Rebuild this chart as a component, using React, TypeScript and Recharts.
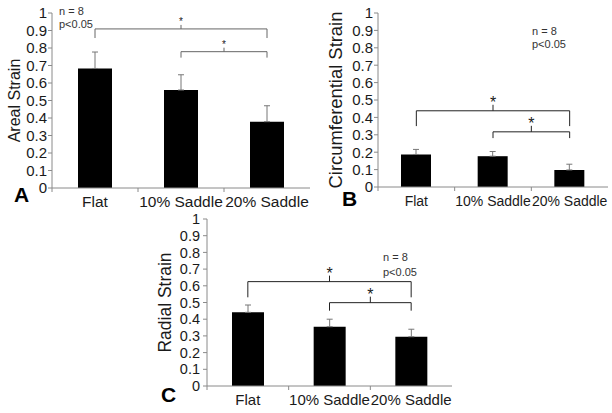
import { BarChart, Bar, XAxis, YAxis, ErrorBar, ReferenceLine } from "recharts";

const categories = ["Flat", "10% Saddle", "20% Saddle"];

const arealStrain = [0.683, 0.56, 0.379];
const arealError = [0.094, 0.087, 0.091];
const circumferentialStrain = [0.187, 0.177, 0.098];
const circumferentialError = [0.029, 0.027, 0.033];
const radialStrain = [0.441, 0.355, 0.295];
const radialError = [0.044, 0.045, 0.045];

const yTicks = [0, 0.1, 0.2, 0.3, 0.4, 0.5, 0.6, 0.7, 0.8, 0.9, 1];

// significance brackets: horizontal bar height and where the legs end
const arealBrackets = [
  { from: "Flat", to: "20% Saddle", y: 0.909, leg: 0.857 },
  { from: "10% Saddle", to: "20% Saddle", y: 0.779, leg: 0.745 },
];
const circumferentialBrackets = [
  { from: "Flat", to: "20% Saddle", y: 0.438, leg: 0.35 },
  { from: "10% Saddle", to: "20% Saddle", y: 0.317, leg: 0.281 },
];
const radialBrackets = [
  { from: "Flat", to: "20% Saddle", y: 0.625, leg: 0.531 },
  { from: "10% Saddle", to: "20% Saddle", y: 0.499, leg: 0.451 },
];

const FONT = "'Liberation Sans', Arial, sans-serif";
const AXIS = "#8a8a8a";
const TEXT = "#1a1a1a";

function CategoryTick({ x, y, payload, fontSize }: any) {
  const edge = payload && payload.offset ? x - payload.offset : null;
  return (
    <g>
      {edge !== null && (
        <line x1={edge} x2={edge} y1={y - 8} y2={y - 4} stroke={AXIS} />
      )}
      <text x={x} y={y} dy={11} textAnchor="middle" fontSize={fontSize} fill={TEXT} fontFamily={FONT}>
        {payload.value}
      </text>
    </g>
  );
}

function AxisTitle({ viewBox, text, baseX, fontSize }: any) {
  const cy = viewBox.y + viewBox.height / 2;
  return (
    <text
      transform={`translate(${baseX},${cy}) rotate(-90)`}
      textAnchor="middle"
      fontSize={fontSize}
      fill={TEXT}
      fontFamily={FONT}
    >
      {text}
    </text>
  );
}

function StarMark({ viewBox, rise, starSize, starDy, color }: any) {
  const cx = viewBox.x + viewBox.width / 2;
  const y = viewBox.y;
  return (
    <g>
      <line x1={cx} x2={cx} y1={y} y2={y - rise} stroke={color} />
      <text x={cx} y={y - rise + starDy} textAnchor="middle" fontSize={starSize} fill={TEXT} fontFamily={FONT}>
        *
      </text>
    </g>
  );
}

function Panel({ title, values, errors, brackets, box, style }: any) {
  const data = categories.map((c, i) => ({ name: c, value: values[i], err: [0, errors[i]] }));
  return (
    <div style={{ position: "absolute", left: box.left, top: box.top }}>
      <BarChart
        width={box.width}
        height={box.height}
        data={data}
        margin={{ top: box.top0, right: box.right, bottom: 0, left: 0 }}
      >
        <XAxis
          dataKey="name"
          height={box.xh}
          stroke={AXIS}
          tickLine={false}
          tickSize={4}
          tickMargin={4}
          tick={<CategoryTick fontSize={box.xFont} />}
          interval={0}
        />
        <YAxis
          width={box.yw}
          domain={[0, 1]}
          ticks={yTicks}
          stroke={AXIS}
          tickSize={4}
          tickMargin={box.yGap}
          tick={{ fontSize: box.yFont, fill: TEXT, fontFamily: FONT }}
          interval={0}
          label={{
            content: (p: any) => (
              <AxisTitle {...p} text={title} baseX={box.titleX} fontSize={box.titleFont} />
            ),
          }}
        />
        <Bar dataKey="value" fill="#000" barSize={box.barSize} isAnimationActive={false}>
          <ErrorBar dataKey="err" direction="y" width={3} stroke="#777" strokeWidth={1} isAnimationActive={false} />
        </Bar>
        {brackets.map((b: any, i: number) => (
          <ReferenceLine
            key={`h${i}`}
            segment={[{ x: b.from, y: b.y }, { x: b.to, y: b.y }]}
            stroke={style.color}
            label={{
              content: (p: any) => (
                <StarMark {...p} rise={style.rise} starSize={style.starSize} starDy={style.starDy} color={style.color} />
              ),
            }}
          />
        ))}
        {brackets.map((b: any, i: number) => (
          <ReferenceLine key={`l${i}`} segment={[{ x: b.from, y: b.y }, { x: b.from, y: b.leg }]} stroke={style.color} />
        ))}
        {brackets.map((b: any, i: number) => (
          <ReferenceLine key={`r${i}`} segment={[{ x: b.to, y: b.y }, { x: b.to, y: b.leg }]} stroke={style.color} />
        ))}
      </BarChart>
    </div>
  );
}

export default function App() {
  return (
    <div
      style={{
        position: "fixed",
        left: 0,
        top: 0,
        width: 612,
        height: 413,
        background: "#fff",
        fontFamily: FONT,
        overflow: "hidden",
      }}
    >
      <Panel
        title="Areal Strain"
        values={arealStrain}
        errors={arealError}
        brackets={arealBrackets}
        box={{
          left: 0, top: 0, width: 320, height: 210, top0: 13, right: 10, xh: 22, yw: 52,
          barSize: 34, titleX: 20, titleFont: 16, xFont: 15.5, yFont: 15, yGap: 1,
        }}
        style={{ color: "#666", rise: 4, starSize: 10, starDy: 0 }}
      />
      <Panel
        title="Circumferential Strain"
        values={circumferentialStrain}
        errors={circumferentialError}
        brackets={circumferentialBrackets}
        box={{
          left: 300, top: 0, width: 312, height: 210, top0: 13, right: 4, xh: 23, yw: 78,
          barSize: 30, titleX: 42, titleFont: 18.4, xFont: 14, yFont: 15, yGap: 1,
        }}
        style={{ color: "#222", rise: 6, starSize: 16, starDy: 3 }}
      />
      <Panel
        title="Radial Strain"
        values={radialStrain}
        errors={radialError}
        brackets={radialBrackets}
        box={{
          left: 150, top: 205, width: 310, height: 208, top0: 14, right: 8, xh: 27, yw: 57,
          barSize: 32, titleX: 21, titleFont: 17.5, xFont: 15, yFont: 14.5, yGap: 3,
        }}
        style={{ color: "#222", rise: 6, starSize: 16, starDy: 3 }}
      />
      <svg width={612} height={413} style={{ position: "absolute", left: 0, top: 0, pointerEvents: "none" }}>
        <g fontFamily={FONT} fill="#333" fontSize={11}>
          <text x={59} y={15}>n = 8</text>
          <text x={59} y={28}>p&lt;0.05</text>
          <text x={532} y={35}>n = 8</text>
          <text x={532} y={48}>p&lt;0.05</text>
          <text x={383} y={261}>n = 8</text>
          <text x={383} y={276}>p&lt;0.05</text>
        </g>
        <g fontFamily={FONT} fill="#000" fontSize={21} fontWeight="bold">
          <text x={14} y={202}>A</text>
          <text x={342} y={206}>B</text>
          <text x={161} y={402}>C</text>
        </g>
      </svg>
    </div>
  );
}
